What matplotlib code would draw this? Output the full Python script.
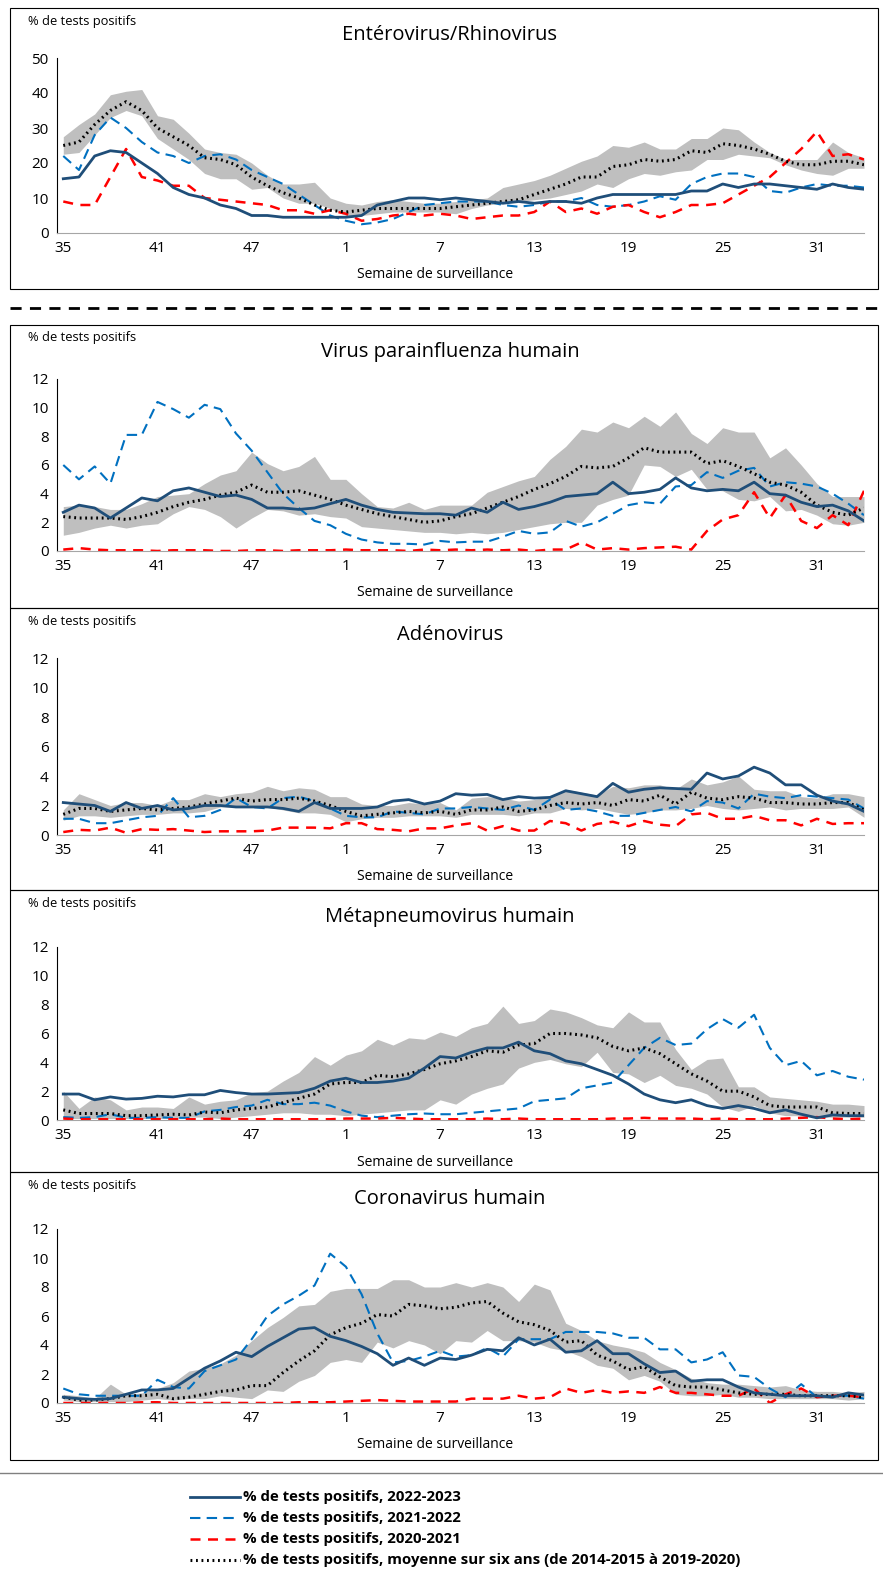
import numpy as np
import matplotlib
matplotlib.use("Agg")
import matplotlib.pyplot as plt
from matplotlib.lines import Line2D
from matplotlib.patches import Rectangle

W, H = 883, 1574

weeks = list(range(35, 53)) + list(range(1, 35))
tick_weeks = [35, 41, 47, 1, 7, 13, 19, 25, 31]

# ---------- Entérovirus/Rhinovirus ----------
ent_2223 = [15.5,16,22,23.5,23,20, 17,13,11,10,8,7, 5,5,4.5,4.5,4.5,4.5, 4.5,5,8,9,10,10,
            9.5,10,9.5,9,8.5,9, 8.5,9,9,8.5,10,11, 11,11,11,11,12,12, 14,13,14,14,13.5,13, 12.5,14,13,12.5]
ent_2122 = [22,18,28,33,30,26, 23,22,20,22,22.5,21, 18,16,14,11,8,5, 3.5,2.5,3,4,6,8,
            8.5,9,9,9,8,7.5, 8,9,9,10,8,7.5, 8,9,10.5,9.5,14,16, 17,17,16,12,11.5,13, 14,13.5,13.5,13]
ent_2021 = [9,8,8,16,24,16, 15,13.5,13.5,10,9.5,9, 8.5,8,6.5,6.5,5.5,6.5, 5.5,3.5,4,5,5.5,5,
            5.5,5,4,4.5,5,5, 6,9,6,7,5.5,7.5, 8,6,4.5,6,8,8, 8.5,11,13.5,16,20,24, 29,22,22.5,21]
ent_avg = [25,26,31,35,37.5,35, 30,27.5,25,21.5,21,19.5, 16,13.5,11.5,10,8,6.5, 6,6.5,7,7,7,7,
           7,7.5,8,8.5,9,9.5, 11,12.5,14,16,16,19, 19.5,21,20.5,21,23.5,23, 25.5,25,24,22.5,20.5,19.5, 19.5,20.5,20.5,19.5]
ent_hi = [27.5,31,34,39.5,40.5,41, 33.5,32.5,28.5,24,23,22.5, 20,16.5,14,14,14.5,10, 8.5,8,9,9.5,9,8.5,
          8.5,9,9.5,10,13,14, 15,16.5,18.5,20.5,22,25, 24.5,26,24,24,27,27, 30,29.5,26,23,21,21, 21,26,23,21.5]
ent_lo = [22.5,23,28,33,35,33.5, 27,24,21,17,15.5,15.5, 12.5,13,10,8.5,8.5,7, 5,5,5.5,6,6,6,
          6,5.5,7,8,8.5,9, 9.5,10,11,12,14,13, 15.5,17,16.5,17.5,18,21, 21,22.5,22,21.5,19.5,18, 17,16.5,18.5,18.5]

# ---------- Virus parainfluenza humain ----------
pif_2223 = [2.7,3.2,3.0,2.3,3.0,3.7, 3.5,4.2,4.4,4.1,3.8,3.9, 3.6,3.0,3.0,2.9,3.0,3.3, 3.6,3.2,2.9,2.7,2.65,2.6,
            2.6,2.5,3.0,2.7,3.4,2.9, 3.1,3.4,3.8,3.9,4.0,4.8, 4.0,4.1,4.3,5.1,4.4,4.2, 4.3,4.2,4.8,4.0,3.9,3.4, 3.1,3.2,2.8,2.1]
pif_2122 = [6.0,5.0,5.9,4.7,8.1,8.1, 10.4,9.9,9.3,10.2,9.9,8.2, 7.0,5.5,4.0,3.0,2.1,1.8, 1.2,0.8,0.6,0.5,0.5,0.45,
            0.7,0.6,0.65,0.65,1.0,1.4, 1.2,1.3,2.1,1.7,2.0,2.6, 3.2,3.4,3.3,4.5,4.6,5.5, 5.1,5.6,5.8,4.5,4.8,4.7, 4.5,4.0,3.3,2.5]
pif_2021 = [0.1,0.2,0.1,0.05,0.05,0.05, 0,0.05,0.05,0.05,0,0, 0.05,0.05,0,0.05,0.05,0.05, 0.1,0.05,0.05,0.05,0,0.1,
            0.05,0.1,0.05,0.1,0.05,0.1, 0,0.1,0.1,0.6,0.1,0.2, 0.1,0.2,0.25,0.3,0.1,1.4, 2.2,2.5,4.1,2.3,3.9,2.1, 1.6,2.5,1.8,4.2]
pif_avg = [2.4,2.3,2.3,2.3,2.2,2.4, 2.7,3.1,3.4,3.6,3.9,4.1, 4.6,4.1,4.1,4.2,3.9,3.6, 3.2,2.9,2.6,2.4,2.2,2.0,
           2.1,2.4,2.6,3.0,3.4,3.8, 4.3,4.7,5.2,5.9,5.8,5.9, 6.5,7.2,6.9,6.9,6.9,6.1, 6.3,5.9,5.4,4.8,4.6,4.1, 3.2,2.7,2.5,3.0]
pif_hi = [3.1,3.2,3.1,2.9,2.9,3.3, 3.8,3.9,4.0,4.7,5.3,5.6, 6.9,6.1,5.6,5.9,6.6,5.0, 5.0,4.0,3.1,3.0,3.4,2.9,
          3.2,3.2,3.2,4.1,4.5,4.9, 5.2,6.4,7.3,8.5,8.3,9.0, 8.6,9.4,8.7,9.7,8.2,7.5, 8.6,8.3,8.3,6.5,7.2,6.0, 4.7,3.8,3.8,3.8]
pif_lo = [1.1,1.3,1.6,1.8,1.6,1.8, 1.9,2.6,3.1,2.9,2.4,1.6, 2.3,2.9,2.8,2.5,2.6,2.4, 2.3,1.7,1.6,1.5,1.4,1.3,
          1.3,1.2,1.3,1.2,1.3,1.5, 1.7,1.9,2.0,2.0,3.2,3.6, 3.9,6.0,5.9,5.2,5.7,4.3, 4.2,3.6,3.5,3.8,2.8,2.9, 2.5,1.9,1.8,2.0]

# ---------- Adénovirus ----------
ade_2223 = [2.2,2.1,2.0,1.6,2.2,1.8, 2.0,1.7,1.8,2.0,2.0,1.9, 1.9,1.9,1.8,1.6,2.2,1.8, 1.8,1.8,1.9,2.3,2.4,2.1,
            2.3,2.8,2.7,2.75,2.4,2.6, 2.5,2.55,3.0,2.8,2.6,3.5, 2.9,3.1,3.2,3.15,3.1,4.2, 3.8,4.0,4.6,4.2,3.4,3.4, 2.7,2.3,2.1,1.6]
ade_2122 = [1.1,1.1,0.8,0.8,1.0,1.2, 1.3,2.5,1.2,1.3,1.7,2.5, 1.9,1.8,2.5,2.6,2.3,1.8, 1.3,1.2,1.2,1.6,1.5,1.4,
            1.8,1.8,1.9,1.8,1.7,2.0, 1.7,2.4,1.7,1.8,1.6,1.3, 1.3,1.5,1.7,1.9,1.6,2.3, 2.2,1.8,2.8,2.6,2.5,2.7, 2.6,2.5,2.4,1.8]
ade_2021 = [0.2,0.35,0.3,0.5,0.15,0.4, 0.35,0.4,0.3,0.2,0.25,0.25, 0.25,0.3,0.5,0.5,0.5,0.45, 0.8,0.8,0.4,0.35,0.25,0.45,
            0.45,0.65,0.8,0.3,0.6,0.3, 0.3,0.95,0.8,0.3,0.75,0.9, 0.6,0.95,0.7,0.6,1.4,1.5, 1.1,1.1,1.3,1.0,1.0,0.65, 1.1,0.75,0.8,0.8]
ade_avg = [1.4,1.8,1.8,1.6,1.7,1.8, 1.7,1.8,1.9,2.1,2.3,2.5, 2.3,2.4,2.4,2.5,2.3,2.0, 1.6,1.3,1.4,1.5,1.6,1.5,
           1.6,1.4,1.7,1.7,1.9,1.6, 1.7,2.0,2.2,2.1,2.2,2.0, 2.4,2.3,2.7,2.1,2.9,2.5, 2.4,2.6,2.5,2.2,2.2,2.1, 2.1,2.2,2.2,1.7]
ade_hi = [1.7,2.8,2.4,2.0,2.2,2.2, 2.0,2.4,2.4,2.8,2.6,2.8, 2.9,3.3,3.0,3.2,3.1,2.6, 2.6,2.1,2.0,2.0,2.2,2.1,
          2.2,1.7,2.5,2.6,2.5,2.3, 2.4,2.6,3.1,2.9,2.7,3.3, 3.2,3.4,3.4,3.1,3.8,3.4, 3.6,4.0,3.1,3.0,3.0,2.6, 2.5,2.8,2.8,2.6]
ade_lo = [1.0,1.3,1.3,1.2,1.3,1.4, 1.4,1.5,1.5,1.6,1.9,1.9, 1.9,1.9,1.7,1.5,1.5,1.4, 0.9,1.1,1.2,1.2,1.3,1.3,
          1.3,1.2,1.4,1.4,1.4,1.3, 1.5,1.5,1.8,1.7,1.8,1.6, 1.4,1.5,1.7,1.7,1.8,2.0, 1.8,1.7,1.8,1.9,1.7,1.8, 1.8,1.8,1.9,1.2]

# ---------- Métapneumovirus humain ----------
mpv_2223 = [1.8,1.8,1.4,1.6,1.45,1.5, 1.65,1.6,1.75,1.75,2.05,1.9, 1.8,1.8,1.85,1.9,2.2,2.7, 2.9,2.6,2.6,2.7,2.9,3.6,
            4.4,4.3,4.7,5.0,5.0,5.4, 4.8,4.6,4.1,3.9,3.5,3.1, 2.5,1.8,1.4,1.2,1.4,1.0, 0.8,1.0,0.8,0.5,0.7,0.4, 0.15,0.35,0.3,0.3]
mpv_2122 = [0.2,0.15,0.2,0.4,0.15,0.15, 0.2,0.15,0.15,0.6,0.7,0.9, 1.0,1.4,1.1,1.1,1.2,1.0, 0.6,0.3,0.2,0.3,0.4,0.45,
            0.4,0.4,0.5,0.6,0.7,0.8, 1.3,1.4,1.5,2.2,2.4,2.6, 3.8,5.0,5.7,5.2,5.3,6.3, 7.0,6.4,7.3,5.0,3.8,4.1, 3.1,3.4,3.0,2.8]
mpv_2021 = [0.1,0.05,0.05,0.05,0.05,0.05, 0.05,0.05,0.05,0.05,0.1,0.05, 0.05,0.05,0.05,0.05,0.05,0.05, 0.1,0.1,0.1,0.15,0.1,0.05,
            0.05,0.05,0.05,0.1,0.05,0.1, 0.05,0.05,0.05,0.05,0.05,0.1, 0.1,0.15,0.1,0.1,0.1,0.05, 0.1,0.05,0.05,0.05,0.1,0.15, 0.2,0.1,0.05,0.1]
mpv_avg = [0.7,0.45,0.45,0.45,0.3,0.3, 0.35,0.4,0.35,0.55,0.5,0.7, 0.8,0.9,1.2,1.5,1.8,2.5, 2.6,2.6,3.1,3.0,3.2,3.5,
           3.9,4.1,4.4,4.8,4.7,5.2, 5.3,6.0,6.0,5.9,5.7,5.1, 4.8,5.0,4.6,3.9,3.2,2.7, 2.0,2.0,1.6,1.0,0.9,0.9, 0.9,0.5,0.45,0.45]
mpv_hi = [2.0,0.8,1.6,1.4,0.7,0.9, 0.9,0.8,1.6,1.1,1.3,1.4, 1.9,2.0,2.7,3.3,4.4,3.8, 4.5,4.8,5.6,5.2,5.7,5.6,
          6.1,5.8,6.4,6.7,7.9,6.7, 6.9,7.7,7.5,7.1,6.6,6.4, 7.5,6.8,6.8,4.9,3.5,4.2, 4.3,2.3,2.3,1.6,1.5,1.4, 1.3,1.1,1.1,1.0]
mpv_lo = [0.1,0.1,0.1,0.1,0.1,0.1, 0.1,0.1,0.2,0.2,0.1,0.2, 0.3,0.4,0.5,0.5,0.4,0.4, 0.3,0.4,0.5,0.6,0.7,0.7,
          1.4,1.1,1.8,2.2,2.5,3.6, 4.0,4.2,3.9,3.7,4.7,3.3, 3.2,2.6,3.1,2.4,2.2,1.8, 0.9,0.6,1.0,0.5,0.3,0.3, 0.2,0.2,0.2,0.2]

# ---------- Coronavirus humain ----------
cov_2223 = [0.4,0.3,0.25,0.3,0.6,0.9, 0.9,1.0,1.7,2.4,2.9,3.5, 3.2,3.9,4.5,5.1,5.2,4.6, 4.3,3.9,3.4,2.6,3.1,2.6,
            3.1,3.0,3.3,3.7,3.6,4.5, 4.0,4.4,3.5,3.6,4.3,3.4, 3.4,2.7,2.1,2.2,1.5,1.6, 1.6,1.1,0.7,0.6,0.5,0.5, 0.5,0.4,0.7,0.55]
cov_2122 = [1.0,0.6,0.5,0.5,0.5,0.5, 1.6,1.1,1.0,2.2,2.6,3.0, 4.4,6.0,6.8,7.4,8.1,10.3, 9.4,7.5,4.8,2.8,2.9,3.2,
            3.6,3.2,3.3,3.8,3.2,4.4, 4.4,4.4,4.9,4.9,4.9,4.8, 4.5,4.5,3.7,3.7,2.8,3.0, 3.5,1.9,1.8,1.0,0.4,1.3, 0.4,0.5,0.5,0.3]
cov_2021 = [0,0,0,0,0,0.05, 0.05,0,0,0,0,0, 0,0,0,0.05,0.05,0.05, 0.1,0.15,0.2,0.15,0.1,0.1,
            0.1,0.1,0.3,0.3,0.3,0.5, 0.3,0.4,1.0,0.7,0.9,0.7, 0.8,0.7,1.1,0.7,0.7,0.6, 0.5,0.5,1.0,0.0,0.6,1.0, 0.4,0.5,0.5,0.4]
cov_avg = [0.4,0.2,0.2,0.3,0.5,0.5, 0.6,0.3,0.4,0.6,0.8,0.9, 1.2,1.2,2.1,2.9,3.6,4.7, 5.2,5.5,6.1,6.0,6.8,6.7,
           6.5,6.6,6.9,7.0,6.2,5.6, 5.4,5.0,4.2,4.3,3.3,2.9, 2.3,2.5,1.8,1.2,1.1,1.1, 0.9,0.7,0.6,0.6,0.6,0.5, 0.5,0.5,0.5,0.4]
cov_hi = [0.6,0.5,0.3,1.3,0.6,0.7, 1.0,1.4,2.2,2.4,2.7,3.3, 4.3,5.2,5.9,6.7,6.8,7.7, 7.9,7.9,7.9,8.5,8.5,8.0,
          8.0,8.3,8.0,8.3,8.0,7.0, 8.2,7.8,5.5,5.0,4.3,4.0, 3.8,3.5,2.8,2.3,1.7,1.4, 1.3,1.3,1.2,1.1,1.2,0.9, 0.8,0.8,0.7,0.8]
cov_lo = [0.2,0.1,0.1,0.1,0.1,0.2, 0.3,0.2,0.3,0.3,0.5,0.4, 0.3,0.9,0.8,1.5,1.9,2.8, 3.0,2.8,4.2,3.8,4.3,4.0,
          3.4,4.3,4.2,5.0,4.3,4.3, 4.2,3.8,3.6,3.2,2.6,2.4, 1.6,1.9,1.5,0.6,0.5,0.5, 0.6,0.4,0.4,0.3,0.3,0.3, 0.3,0.3,0.2,0.3]

legend_labels = ["% de tests positifs, 2022-2023",
                 "% de tests positifs, 2021-2022",
                 "% de tests positifs, 2020-2021",
                 "% de tests positifs, moyenne sur six ans (de 2014-2015 à 2019-2020)"]

NAVY, BLUE, RED, GREY = "#1F4E79", "#0070C0", "#FF0000", "#BFBFBF"

plt.rcParams['font.family'] = ['Open Sans', 'DejaVu Sans']

fig = plt.figure(figsize=(W / 100, H / 100), dpi=100)


def fx(px):
    return px / W


def fy(py):
    return 1 - py / H


# (title, box top, box bottom, y0 pixel, ytop pixel, ymax, step, data)
panels = [
    ("Entérovirus/Rhinovirus", 8, 289, 233, 58, 50, 10, (ent_2223, ent_2122, ent_2021, ent_avg, ent_lo, ent_hi)),
    ("Virus parainfluenza humain", 325, 608, 551, 379, 12, 2, (pif_2223, pif_2122, pif_2021, pif_avg, pif_lo, pif_hi)),
    ("Adénovirus", 608, 890, 835, 658, 12, 2, (ade_2223, ade_2122, ade_2021, ade_avg, ade_lo, ade_hi)),
    ("Métapneumovirus humain", 890, 1172, 1120, 947, 12, 2, (mpv_2223, mpv_2122, mpv_2021, mpv_avg, mpv_lo, mpv_hi)),
    ("Coronavirus humain", 1172, 1460, 1403, 1229, 12, 2, (cov_2223, cov_2122, cov_2021, cov_avg, cov_lo, cov_hi)),
]

x = np.arange(len(weeks))
left_px, right_px = 57, 864
for title, btop, bbot, y0, ytop, ymax, step, (s1, s2, s3, avg, lo, hi) in panels:
    fig.patches.append(Rectangle((fx(10), fy(bbot)), fx(868), (bbot - btop) / H,
                                 transform=fig.transFigure, fill=False, ec="black", lw=0.8))
    ax = fig.add_axes([fx(left_px), fy(y0), fx(right_px - left_px), (y0 - ytop) / H])
    ax.fill_between(x, lo, hi, color=GREY, lw=0)
    ax.plot(x, s2, color=BLUE, lw=1.5, ls=(0, (5, 3)))
    ax.plot(x, s3, color=RED, lw=1.8, ls=(0, (4, 3)))
    ax.plot(x, avg, color="black", lw=2.2, ls=(0, (0.6, 1.2)))
    ax.plot(x, s1, color=NAVY, lw=2)
    ax.set_xlim(-0.4, len(weeks) - 1)
    ax.set_ylim(0, ymax)
    ax.set_yticks(np.arange(0, ymax + 0.1, step))
    ax.set_xticks([weeks.index(w) for w in tick_weeks])
    ax.set_xticklabels([str(w) for w in tick_weeks])
    ax.tick_params(length=0, labelsize=11, pad=6)
    for s in ("top", "right"):
        ax.spines[s].set_visible(False)
    ax.spines["left"].set_color("black")
    ax.spines["bottom"].set_color("#A6A6A6")
    fig.text(fx(435), fy(y0 + 42), "Semaine de surveillance", ha="center", va="center", fontsize=10)
    fig.text(fx(450), fy(btop + 27), title, ha="center", va="center", fontsize=14.5)
    fig.text(fx(28), fy(btop + 13), "% de tests positifs", ha="left", va="center", fontsize=9.3)

fig.lines.append(Line2D([fx(10), fx(883)], [fy(308), fy(308)], transform=fig.transFigure,
                        color="black", lw=2, ls=(0, (4, 3))))
fig.lines.append(Line2D([0, 1], [fy(1473), fy(1473)], transform=fig.transFigure, color="#808080", lw=1))

styles = [dict(color=NAVY, lw=2), dict(color=BLUE, lw=1.5, ls=(0, (5, 3))),
          dict(color=RED, lw=1.8, ls=(0, (4, 3))), dict(color="black", lw=2.2, ls=(0, (0.6, 1.2)))]
for i, (lab, st) in enumerate(zip(legend_labels, styles)):
    yy = fy(1497 + i * 21)
    fig.lines.append(Line2D([fx(190), fx(240)], [yy, yy], transform=fig.transFigure, **st))
    fig.text(fx(243), yy, lab, ha="left", va="center", fontsize=10.8, fontweight="bold")

fig.savefig("out.png", dpi=100)
